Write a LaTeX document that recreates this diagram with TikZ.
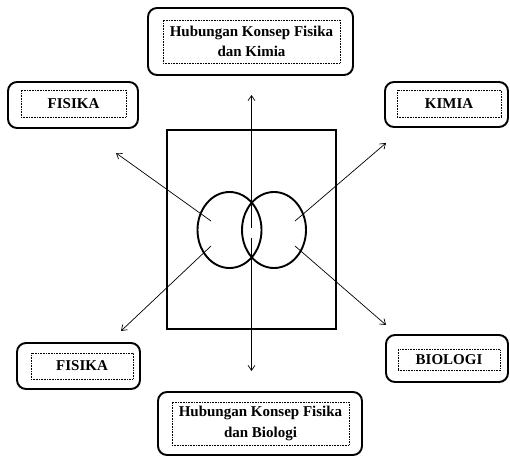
\documentclass[tikz,border=0pt]{standalone}
\usepackage{fontspec}
\setmainfont{Liberation Serif}
\usetikzlibrary{arrows.meta}

\tikzset{
  outerbox/.style={draw, line width=1.9pt, rounded corners=9pt, inner sep=0pt},
  innerbox/.style={draw, densely dotted, line width=0.6pt, inner sep=0pt, align=center,
    font=\bfseries\fontsize{15}{20.5}\selectfont},
  frame/.style={line width=2.5pt},
  ring/.style={line width=1.9pt},
  link/.style={line width=0.7pt, -{Straight Barb[length=5pt,width=7pt]}}
}

\begin{document}
\begin{tikzpicture}[x=1pt,y=-1pt]
\useasboundingbox (0,0) rectangle (510,457);

% outer rounded boxes
\node[outerbox, minimum width=205pt, minimum height=67pt] (topO) at (250.5,41.5) {};
\node[outerbox, minimum width=130pt, minimum height=46pt] (flO) at (73,105) {};
\node[outerbox, minimum width=123pt, minimum height=45pt] (kmO) at (446.5,104.5) {};
\node[outerbox, minimum width=123pt, minimum height=46pt] (fbO) at (78.5,366) {};
\node[outerbox, minimum width=122pt, minimum height=47pt] (bioO) at (447,358.5) {};
\node[outerbox, minimum width=204pt, minimum height=63pt] (botO) at (260,423.5) {};

% inner dotted boxes with the labels
\node[innerbox, minimum width=177pt, minimum height=43pt] (topI) at (251.5,41.5)
  {Hubungan Konsep Fisika\\dan Kimia};
\node[innerbox, minimum width=105pt, minimum height=27pt] (flI) at (73.5,103.5) {FISIKA};
\node[innerbox, minimum width=104pt, minimum height=27pt] (kmI) at (449,103.5) {KIMIA};
\node[innerbox, minimum width=102pt, minimum height=26pt] (fbI) at (82,366) {FISIKA};
\node[innerbox, minimum width=102pt, minimum height=21pt] (bioI) at (449,360) {BIOLOGI};
\node[innerbox, minimum width=177pt, minimum height=43pt] (botI) at (260.5,423.5)
  {Hubungan Konsep Fisika\\dan Biologi};

% central frame and the two overlapping circles
\draw[frame] (167,130) rectangle (336,329);
\draw[ring] (229.5,230) ellipse [x radius=32, y radius=38];
\draw[ring] (274,230) ellipse [x radius=32, y radius=38];

% arrow start points inside the circles
\coordinate (lensT) at (251.5,228);
\coordinate (lensB) at (251.5,238);
\coordinate (lU) at (211,221);
\coordinate (lD) at (211,246);
\coordinate (rU) at (295,221);
\coordinate (rD) at (295,246);

% arrow tips
\coordinate (tipT) at (251.5,95);
\coordinate (tipB) at (251.5,371);
\coordinate (tipLU) at (116,153);
\coordinate (tipLD) at (121,331);
\coordinate (tipRU) at (386,143);
\coordinate (tipRD) at (386,325);

\draw[link] (lensT) -- (tipT);
\draw[link] (lensB) -- (tipB);
\draw[link] (lU) -- (tipLU);
\draw[link] (lD) -- (tipLD);
\draw[link] (rU) -- (tipRU);
\draw[link] (rD) -- (tipRD);
\end{tikzpicture}
\end{document}
